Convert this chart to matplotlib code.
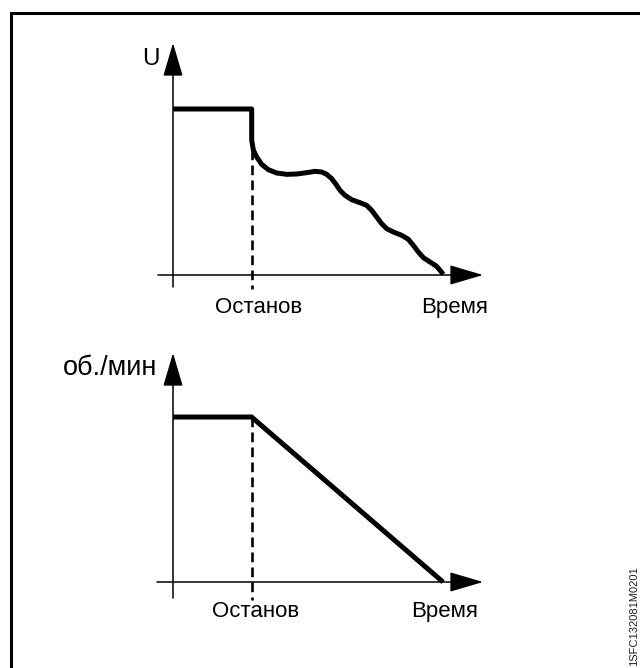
import matplotlib
matplotlib.use("Agg")
import matplotlib.pyplot as plt
from matplotlib.patches import Rectangle, ArrowStyle

plt.rcParams['font.family'] = ['Liberation Sans', 'DejaVu Sans']
plt.rcParams['lines.scale_dashes'] = False

# ---- data ----
t_stop = 0.291
# voltage curve (normalised time, normalised voltage)
t_u = [0.0, 0.2914, 0.2914, 0.2975, 0.3099, 0.3284, 0.3531, 0.3840, 0.4210,
       0.4580, 0.4951, 0.5259, 0.5506, 0.5691, 0.5877, 0.6037, 0.6185, 0.6370,
       0.6617, 0.6926, 0.7173, 0.7358, 0.7543, 0.7728, 0.7914, 0.8161, 0.8469,
       0.8716, 0.8901, 0.9086, 0.9272, 0.9519, 0.9765, 0.9889, 1.0012]
u_vals = [1.0, 1.0, 0.813, 0.753, 0.7108, 0.6667, 0.6345, 0.6145, 0.6064,
          0.6084, 0.6165, 0.6245, 0.6205, 0.6064, 0.5803, 0.5462, 0.5100, 0.4799,
          0.4538, 0.4357, 0.4197, 0.3896, 0.3494, 0.3092, 0.2791, 0.2590, 0.2390,
          0.2149, 0.1787, 0.1386, 0.1044, 0.0783, 0.0522, 0.0281, 0.0040]
# speed curve
t_n = [0.0, 0.291, 1.0]
n_vals = [1.0, 1.0, 0.0]

x_label_stop = "Останов"
x_label_time = "Время"
y_label_top = "U"
y_label_bot = "об./мин"
doc_id = "1SFC132081M0201"

W, H = 640, 668
fig = plt.figure(figsize=(W / 100, H / 100), dpi=100)

# frame (only top/left visible, clipped by figure)
fig.patches.append(Rectangle((11 / W, -0.1), 1.2, 1.1 - 13 / H, fill=False,
                             lw=2.2, ec='black', transform=fig.transFigure))

def px_axes(x0, x1, y0, y1):
    # x0,x1: pixel extents left/right ; y0 bottom pixel, y1 top pixel
    return fig.add_axes([x0 / W, 1 - y0 / H, (x1 - x0) / W, (y0 - y1) / H])

arrow = ArrowStyle('-|>', head_length=21, head_width=6.2)

def draw_axes(ax, xlim, ylim):
    ax.set_xlim(*xlim)
    ax.set_ylim(*ylim)
    ax.axis('off')
    ax.annotate('', xy=(xlim[1], 0), xytext=(xlim[0], 0),
                arrowprops=dict(arrowstyle=arrow, mutation_scale=1, lw=1.1,
                                color='black', shrinkA=0, shrinkB=0))
    ax.annotate('', xy=(0, ylim[1]), xytext=(0, ylim[0]),
                arrowprops=dict(arrowstyle=arrow, mutation_scale=1, lw=1.1,
                                color='black', shrinkA=0, shrinkB=0))

# ---- top panel ----
ax1 = px_axes(158, 483, 287, 43)
xl1 = (-0.0556, 1.1481)
yl1 = (-0.0723, 1.3976)
draw_axes(ax1, xl1, yl1)
ax1.plot([t_stop, t_stop], [u_vals[3], yl1[0] - 0.01], color='black', lw=1.9,
         ls=(0, (7, 3.8)), clip_on=False)
ax1.plot(t_u, u_vals, color='black', lw=3.6, solid_joinstyle='round',
         solid_capstyle='butt', clip_on=False)
ax1.text(-0.081, 1.265, y_label_top, fontsize=17.5, ha='center', va='baseline')
ax1.text(0.318, -0.229, x_label_stop, fontsize=16, ha='center', va='baseline')
ax1.text(1.044, -0.229, x_label_time, fontsize=16, ha='center', va='baseline')

# ---- bottom panel ----
ax2 = px_axes(157, 483, 598, 353)
xl2 = (-0.0593, 1.1481)
yl2 = (-0.097, 1.388)
draw_axes(ax2, xl2, yl2)
ax2.plot([t_stop, t_stop], [n_vals[1], yl2[0] - 0.015], color='black', lw=1.9,
         ls=(0, (7, 3.8)), clip_on=False)
ax2.plot(t_n, n_vals, color='black', lw=3.6, solid_joinstyle='miter',
         solid_capstyle='butt', clip_on=False)
ax2.text(-0.233, 1.255, y_label_bot, fontsize=19.5, ha='center', va='baseline')
ax2.text(0.307, -0.212, x_label_stop, fontsize=16, ha='center', va='baseline')
ax2.text(1.007, -0.212, x_label_time, fontsize=16, ha='center', va='baseline')

fig.text(634 / W, 2 / H, doc_id, fontsize=8, rotation=90, ha='center',
         va='bottom', color='#222222')

fig.savefig("out.png", dpi=100)
